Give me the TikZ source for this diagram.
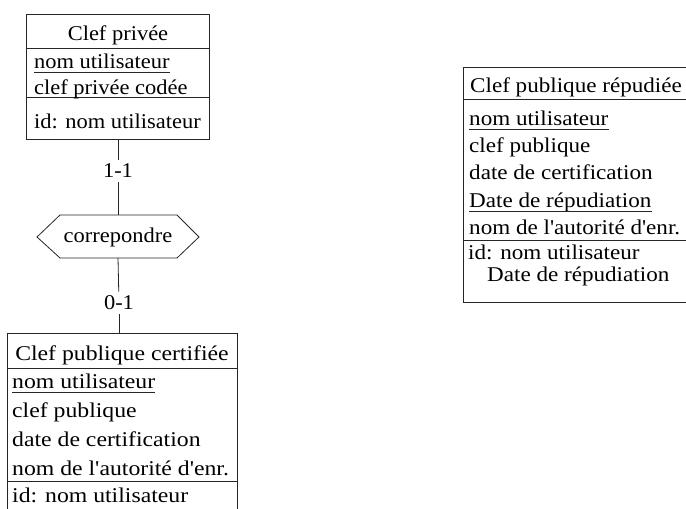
\documentclass[tikz,border=0pt]{standalone}
\usepackage{fontspec}
\newfontfamily\erfonta{Liberation Serif}[FakeStretch=1.07]
\newfontfamily\erfontb{Liberation Serif}[FakeStretch=1.13]
\newfontfamily\erfontc{Liberation Serif}[FakeStretch=1.10]
\begin{document}
\begin{tikzpicture}[x=1pt,y=-1pt,
  frame/.style={line width=0.8pt,black!85},
  fa/.style={font=\erfonta\fontsize{21}{25}\selectfont},
  fb/.style={font=\erfontb\fontsize{21}{25}\selectfont},
  fc/.style={font=\erfontc\fontsize{21}{25}\selectfont},
  txt/.style={anchor=base west,inner sep=0pt},
  ttl/.style={anchor=base,inner sep=0pt},
  card/.style={inner sep=4pt,fa},
  uline/.style={line width=0.8pt,black!85}]
\useasboundingbox (0,0) rectangle (686,509);

% entity: Clef privee
\draw[frame] (26,14) rectangle (209,139);
\draw[frame] (26,48) -- (209,48);
\draw[frame] (26,97) -- (209,97);
\begin{scope}[every node/.append style={fa}]
\node[ttl] (p0) at (118,40) {Clef privée};
\node[txt] (p1) at (34,68) {nom utilisateur};
\node[txt] (p2) at (34,94) {clef privée codée};
\node[txt] (p3) at (34,128) {id: nom utilisateur};
\end{scope}
\draw[uline] ([yshift=-4pt]p1.base west) -- ([yshift=-4pt]p1.base east);
\coordinate (pb) at (118,139);

% relationship: correpondre
\coordinate (hl) at (37,237);
\coordinate (hr) at (199,237);
\coordinate (ht) at (118,215);
\coordinate (hb) at (118,258);
\draw[frame] (hl) -- (60,215) -- (177,215) -- (hr) -- (177,258) -- (60,258) -- cycle;
\node[inner sep=0pt,fa] (rel) at (118,237) {correpondre};

% cardinalities and links
\node[card] (c1) at (118,171) {1-1};
\node[card] (c2) at (119,303) {0-1};
\coordinate (cb) at (119,333);
\draw[frame] (pb) -- (c1);
\draw[frame] (c1) -- (ht);
\draw[frame] (hb) -- (c2);
\draw[frame] (c2) -- (cb);

% entity: Clef publique certifiee
\draw[frame] (7,512) -- (7,333) -- (237,333) -- (237,512);
\draw[frame] (7,368) -- (237,368);
\draw[frame] (7,481) -- (237,481);
\begin{scope}[every node/.append style={fb}]
\node[ttl] (q0) at (122,360) {Clef publique certifiée};
\node[txt] (q1) at (12,388) {nom utilisateur};
\node[txt] (q2) at (12,417) {clef publique};
\node[txt] (q3) at (12,446) {date de certification};
\node[txt] (q4) at (12,475) {nom de l'autorité d'enr.};
\node[txt] (q5) at (12,502) {id: nom utilisateur};
\end{scope}
\draw[uline] ([yshift=-4pt]q1.base west) -- ([yshift=-4pt]q1.base east);

% entity: Clef publique repudiee
\draw[frame] (690,67) -- (463,67) -- (463,302) -- (690,302);
\draw[frame] (463,99) -- (690,99);
\draw[frame] (463,240) -- (690,240);
\begin{scope}[every node/.append style={fc}]
\node[txt] (r0) at (470,92) {Clef publique répudiée};
\node[txt] (r1) at (469,125) {nom utilisateur};
\node[txt] (r2) at (469,152) {clef publique};
\node[txt] (r3) at (469,179) {date de certification};
\node[txt] (r4) at (469,207) {Date de répudiation};
\node[txt] (r5) at (469,234) {nom de l'autorité d'enr.};
\node[txt] (r6) at (468,259) {id: nom utilisateur};
\node[txt] (r7) at (487,281) {Date de répudiation};
\end{scope}
\draw[uline] ([yshift=-4pt]r1.base west) -- ([yshift=-4pt]r1.base east);
\draw[uline] ([yshift=-4pt]r4.base west) -- ([yshift=-4pt]r4.base east);
\end{tikzpicture}
\end{document}
